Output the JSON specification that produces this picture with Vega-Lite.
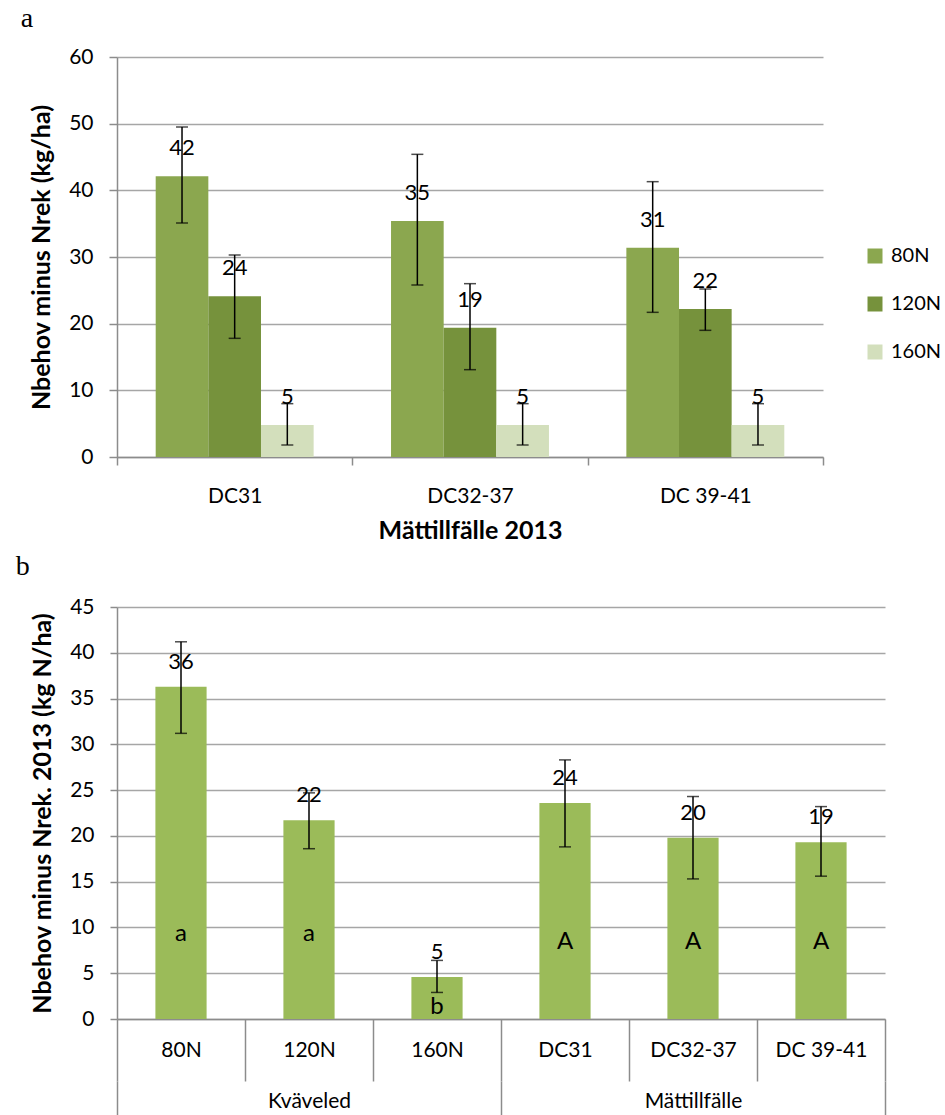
{
  "$schema": "https://vega.github.io/schema/vega-lite/v6.json",
  "background": "white",
  "padding": {"left": 15, "top": 5, "right": 0, "bottom": 0},
  "config": {
    "font": "Lato",
    "view": {"stroke": null},
    "axis": {
      "labelFont": "Lato",
      "labelFontSize": 21,
      "labelColor": "black",
      "titleFont": "Lato",
      "titleColor": "black",
      "titleFontWeight": "bold",
      "titleFontSize": 25,
      "domainColor": "#8c8c8c",
      "domainWidth": 1.5,
      "tickColor": "#8c8c8c",
      "tickWidth": 1.5,
      "gridColor": "#a6a6a6",
      "gridWidth": 1.5
    },
    "title": {"font": "Liberation Serif", "fontSize": 28, "fontWeight": "normal", "color": "black", "anchor": "start"},
    "concat": {"spacing": 10}
  },
  "vconcat": [
    {
      "title": {"text": "a", "dx": -9, "offset": 13},
      "width": 706,
      "height": 400,
      "data": {
        "values": [
          {"stage": "DC31", "dose": "80N", "value": 42.1, "lo": 35.1, "hi": 49.5},
          {"stage": "DC31", "dose": "120N", "value": 24.1, "lo": 17.8, "hi": 30.3},
          {"stage": "DC31", "dose": "160N", "value": 4.8, "lo": 1.8, "hi": 8.0},
          {"stage": "DC32-37", "dose": "80N", "value": 35.4, "lo": 25.8, "hi": 45.4},
          {"stage": "DC32-37", "dose": "120N", "value": 19.4, "lo": 13.1, "hi": 26.0},
          {"stage": "DC32-37", "dose": "160N", "value": 4.8, "lo": 1.8, "hi": 8.0},
          {"stage": "DC 39-41", "dose": "80N", "value": 31.4, "lo": 21.7, "hi": 41.3},
          {"stage": "DC 39-41", "dose": "120N", "value": 22.2, "lo": 19.0, "hi": 25.2},
          {"stage": "DC 39-41", "dose": "160N", "value": 4.8, "lo": 1.8, "hi": 8.0}
        ]
      },
      "encoding": {
        "x": {
          "field": "stage",
          "type": "nominal",
          "sort": ["DC31", "DC32-37", "DC 39-41"],
          "scale": {"paddingInner": 0, "paddingOuter": 0},
          "axis": {
            "title": "Mättillfälle 2013",
            "titlePadding": 12,
            "labelAngle": 0,
            "tickBand": "extent",
            "tickSize": 8,
            "labelPadding": 20
          }
        },
        "xOffset": {"field": "dose", "type": "nominal", "sort": ["80N", "120N", "160N"], "scale": {"paddingInner": 0, "paddingOuter": 0.735}}
      },
      "layer": [
        {
          "mark": {"type": "bar"},
          "encoding": {
            "y": {
              "field": "value",
              "type": "quantitative",
              "scale": {"domain": [0, 60]},
              "axis": {
                "title": "Nbehov minus Nrek (kg/ha)",
                "values": [0, 10, 20, 30, 40, 50, 60],
                "tickSize": 8,
                "labelPadding": 16,
                "titlePadding": 14
              }
            },
            "color": {
              "field": "dose",
              "type": "nominal",
              "sort": ["80N", "120N", "160N"],
              "scale": {"domain": ["80N", "120N", "160N"], "range": ["#8ba74f", "#76923c", "#d3dfbc"]},
              "legend": {
                "title": null,
                "orient": "none",
                "legendX": 748,
                "legendY": 189,
                "symbolType": "square",
                "symbolSize": 225,
                "symbolStrokeWidth": 0,
                "labelFont": "Lato",
                "labelFontSize": 20,
                "labelColor": "black",
                "labelOffset": 6,
                "rowPadding": 28
              }
            }
          }
        },
        {
          "mark": {"type": "rule", "color": "black", "strokeWidth": 1.5},
          "encoding": {"y": {"field": "lo", "type": "quantitative"}, "y2": {"field": "hi"}}
        },
        {
          "mark": {"type": "tick", "color": "black", "size": 12, "thickness": 1.5, "orient": "horizontal"},
          "encoding": {"y": {"field": "hi", "type": "quantitative"}}
        },
        {
          "mark": {"type": "tick", "color": "black", "size": 12, "thickness": 1.5, "orient": "horizontal"},
          "encoding": {"y": {"field": "lo", "type": "quantitative"}}
        },
        {
          "mark": {"type": "text", "font": "Lato", "fontSize": 22, "color": "black", "baseline": "middle", "dy": -28},
          "encoding": {
            "y": {"field": "value", "type": "quantitative"},
            "text": {"field": "value", "type": "quantitative", "format": ".0f"}
          }
        }
      ]
    },
    {
      "title": {"text": "b", "dx": -15, "offset": 15},
      "width": 768,
      "height": 412,
      "data": {
        "values": [
          {"group": "Kväveled", "cat": "80N", "value": 36.3, "lo": 31.2, "hi": 41.2, "letter": "a"},
          {"group": "Kväveled", "cat": "120N", "value": 21.7, "lo": 18.6, "hi": 24.7, "letter": "a"},
          {"group": "Kväveled", "cat": "160N", "value": 4.6, "lo": 2.9, "hi": 6.4, "letter": "b"},
          {"group": "Mättillfälle", "cat": "DC31", "value": 23.6, "lo": 18.8, "hi": 28.3, "letter": "A"},
          {"group": "Mättillfälle", "cat": "DC32-37", "value": 19.8, "lo": 15.3, "hi": 24.3, "letter": "A"},
          {"group": "Mättillfälle", "cat": "DC 39-41", "value": 19.3, "lo": 15.6, "hi": 23.2, "letter": "A"}
        ]
      },
      "resolve": {"scale": {"x": "independent"}, "axis": {"x": "independent"}},
      "layer": [
        {
          "encoding": {
            "x": {
              "field": "cat",
              "type": "nominal",
              "sort": ["80N", "120N", "160N", "DC31", "DC32-37", "DC 39-41"],
              "scale": {"paddingInner": 0, "paddingOuter": 0},
              "axis": {
                "title": null,
                "orient": "bottom",
                "labelAngle": 0,
                "tickBand": "extent",
                "tickSize": 62,
                "labelPadding": -31,
                "labelBaseline": "middle"
              }
            }
          },
          "layer": [
            {
              "mark": {"type": "bar", "color": "#9bbb59", "width": {"band": 0.4}},
              "encoding": {
                "y": {
                  "field": "value",
                  "type": "quantitative",
                  "scale": {"domain": [0, 45]},
                  "axis": {
                    "title": "Nbehov minus Nrek. 2013 (kg N/ha)",
                    "values": [0, 5, 10, 15, 20, 25, 30, 35, 40, 45],
                    "tickSize": 7,
                    "labelPadding": 16,
                    "titlePadding": 14
                  }
                }
              }
            },
            {
              "mark": {"type": "rule", "color": "black", "strokeWidth": 1.5},
              "encoding": {"y": {"field": "lo", "type": "quantitative"}, "y2": {"field": "hi"}}
            },
            {
              "mark": {"type": "tick", "color": "black", "size": 12, "thickness": 1.5, "orient": "horizontal"},
              "encoding": {"y": {"field": "hi", "type": "quantitative"}}
            },
            {
              "mark": {"type": "tick", "color": "black", "size": 12, "thickness": 1.5, "orient": "horizontal"},
              "encoding": {"y": {"field": "lo", "type": "quantitative"}}
            },
            {
              "mark": {"type": "text", "font": "Lato", "fontSize": 22, "color": "black", "baseline": "middle", "dy": -25},
              "encoding": {
                "y": {"field": "value", "type": "quantitative"},
                "text": {"field": "value", "type": "quantitative", "format": ".0f"}
              }
            },
            {
              "transform": [{"filter": "datum.letter === 'a'"}],
              "mark": {"type": "text", "font": "Lato", "fontSize": 24, "color": "black", "baseline": "alphabetic", "dy": -78},
              "encoding": {"y": {"datum": 0, "type": "quantitative"}, "text": {"field": "letter"}}
            },
            {
              "transform": [{"filter": "datum.letter === 'A'"}],
              "mark": {"type": "text", "font": "Lato", "fontSize": 24, "color": "black", "baseline": "alphabetic", "dy": -70},
              "encoding": {"y": {"datum": 0, "type": "quantitative"}, "text": {"field": "letter"}}
            },
            {
              "transform": [{"filter": "datum.letter === 'b'"}],
              "mark": {"type": "text", "font": "Lato", "fontSize": 24, "color": "black", "baseline": "alphabetic", "dy": -5},
              "encoding": {"y": {"datum": 0, "type": "quantitative"}, "text": {"field": "letter"}}
            }
          ]
        },
        {
          "mark": {"type": "text", "opacity": 0},
          "encoding": {
            "x": {
              "field": "group",
              "type": "nominal",
              "sort": ["Kväveled", "Mättillfälle"],
              "scale": {"paddingInner": 0, "paddingOuter": 0},
              "axis": {
                "title": null,
                "orient": "bottom",
                "offset": 62,
                "domain": false,
                "labelAngle": 0,
                "tickBand": "extent",
                "tickSize": 50,
                "labelPadding": -30,
                "labelBaseline": "middle"
              }
            },
            "text": {"field": "group"}
          }
        }
      ]
    }
  ]
}
